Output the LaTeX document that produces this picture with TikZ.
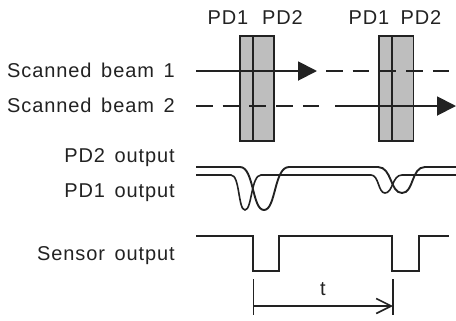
\documentclass[tikz,border=0pt]{standalone}
\usepackage{fontspec}
\setmainfont[LetterSpace=4.5,WordSpace=1.5]{Liberation Sans}
\usetikzlibrary{arrows.meta}
\definecolor{ink}{HTML}{222222}
\definecolor{pdfill}{HTML}{BEBEBE}
\tikzset{
  x=1bp,y=-1bp,
  lbl/.style={text=ink,font=\fontsize{20bp}{22bp}\selectfont,inner sep=0pt},
  lblr/.style={lbl,anchor=east},
  pdbox/.style={draw=ink,fill=pdfill,line width=1.8bp},
  pdsplit/.style={draw=ink,line width=1.8bp},
  wire/.style={draw=ink,line width=1.9bp},
  thinwire/.style={draw=ink,line width=1.6bp},
  beam/.style={wire,-{Triangle[length=19bp,width=19bp]}},
  dashbeam/.style={wire,dash pattern=on 16.5bp off 10.2bp},
  dim/.style={draw=ink,line width=1.6bp,-{Straight Barb[length=15bp,width=15bp,line width=1.6bp]}},
}
\begin{document}
\begin{tikzpicture}
\useasboundingbox (0,0) rectangle (456,320);
% PD boxes
\draw[pdbox] (240,36) rectangle (274,141);
\draw[pdbox] (379,36) rectangle (413.5,141);
\coordinate (s1t) at (253,36); \coordinate (s1b) at (253,141);
\coordinate (s2t) at (392,36); \coordinate (s2b) at (392,141);
\draw[pdsplit] (s1t) -- (s1b);
\draw[pdsplit] (s2t) -- (s2b);
% labels
\node[lbl] (a1) at (228,18) {PD1};
\node[lbl] (a2) at (282.5,18) {PD2};
\node[lbl] (a3) at (369,18) {PD1};
\node[lbl] (a4) at (421,18) {PD2};
\node[lblr] (l1) at (175,70) {Scanned beam 1};
\node[lblr] (l2) at (175,105) {Scanned beam 2};
\node[lblr] (l3) at (175,158) {PD2 output};
\node[lblr] (l4) at (175,193) {PD1 output};
\node[lblr] (l5) at (175,256) {Sensor output};
\node[lbl] (tl) at (323,289) {t};
% beams
\coordinate (b1a) at (196,71); \coordinate (b1b) at (317,71);
\coordinate (b1c) at (326,71); \coordinate (b1d) at (450,71);
\coordinate (b2a) at (196,106); \coordinate (b2b) at (319,106);
\coordinate (b2c) at (335,106); \coordinate (b2d) at (456,106);
\draw[beam] (b1a) -- (b1b);
\draw[dashbeam] (b1c) -- (b1d);
\draw[dashbeam] (b2a) -- (b2b);
\draw[beam] (b2c) -- (b2d);
% PD outputs
\draw[wire] (196,167) -- (240,167)
  .. controls (254,167) and (252,210) .. (264,210)
  .. controls (276,210) and (274,167) .. (289,167)
  -- (378,167)
  .. controls (392,167) and (390,193) .. (402,193)
  .. controls (414,193) and (411,167) .. (425,167)
  -- (456,167);
\draw[thinwire] (196,175) -- (231,175)
  .. controls (240,175) and (238,210) .. (245,210)
  .. controls (252,210) and (251,175) .. (261,175)
  -- (371,175)
  .. controls (379,175) and (378,193) .. (385,193)
  .. controls (393,193) and (392,175) .. (402,175)
  -- (456,175);
% sensor
\draw[wire] (196,236) -- (253,236) -- (253,271) -- (279,271) -- (279,236)
  -- (392,236) -- (392,271) -- (419,271) -- (419,236) -- (449,236);
% t
\coordinate (t1a) at (253.5,279); \coordinate (t1b) at (253.5,315);
\coordinate (t2a) at (393,279); \coordinate (t2b) at (393,315);
\coordinate (d1) at (253.5,306); \coordinate (d2) at (393,306);
\draw[wire] (t1a) -- (t1b);
\draw[wire] (t2a) -- (t2b);
\draw[dim] (d1) -- (d2);
\end{tikzpicture}
\end{document}
